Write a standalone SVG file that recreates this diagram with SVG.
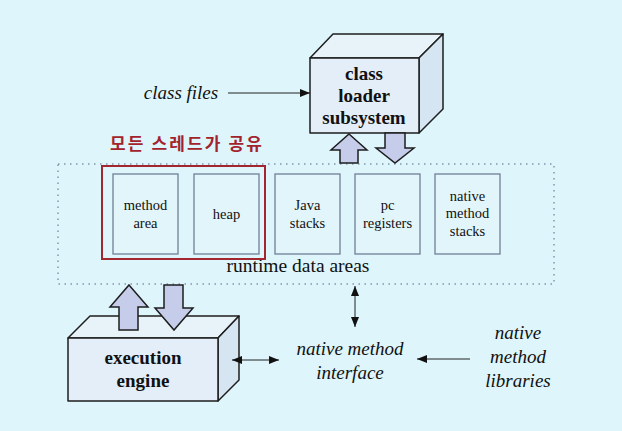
<svg xmlns="http://www.w3.org/2000/svg" width="622" height="431" viewBox="0 0 622 431">
<defs>
<marker id="ah" viewBox="0 0 10 8" refX="10" refY="4" markerWidth="10" markerHeight="8" markerUnits="userSpaceOnUse" orient="auto-start-reverse">
<path d="M0,0 L10,4 L0,8 Z" fill="#111"/>
</marker>
<style>
.bg{fill:#def5fb}
.face{fill:#e3eef8;stroke:#1e1e1e;stroke-width:1.5;stroke-linejoin:round}
.top{fill:#e8f2f9;stroke:#1e1e1e;stroke-width:1.5;stroke-linejoin:round}
.side{fill:#d6e5f2;stroke:#1e1e1e;stroke-width:1.5;stroke-linejoin:round}
.fat{fill:#c6cdea;stroke:#1e1e1e;stroke-width:1.5;stroke-linejoin:miter}
.area{fill:#e2f5fa;stroke:#6f7f95;stroke-width:1.3}
.dots{fill:none;stroke:#8595ad;stroke-width:1.5;stroke-dasharray:1.5,4.5}
.line{fill:none;stroke:#222;stroke-width:1}
.t{fill:#111;text-anchor:middle}
.bold{font-weight:bold;font-size:19px}
.small{font-size:14.5px}
.it{font-style:italic;font-size:19px}
</style>
</defs>
<rect class="bg" x="0" y="0" width="622" height="431"/>

<g font-family="Liberation Serif, DejaVu Serif, serif">
<g id="runtime-data-areas">
<rect class="dots" x="58" y="164" width="496" height="120"/>
<text class="t" x="298" y="272" font-size="19.5">runtime data areas</text>
</g>

<g id="shared-group">
<rect x="102" y="166" width="163" height="93" fill="none" stroke="#a3262f" stroke-width="2"/>
<text x="110" y="150" font-family="Noto Sans CJK KR, Noto Sans, sans-serif" font-size="17" font-weight="bold" fill="#a3232d" textLength="152" lengthAdjust="spacing">모든 스레드가 공유</text>
</g>

<g id="method-area">
<rect class="area" x="113" y="174" width="65" height="80"/>
<text class="t small" x="145.5" y="210">method</text>
<text class="t small" x="145.5" y="228">area</text>
</g>
<g id="heap">
<rect class="area" x="194" y="174" width="65" height="80"/>
<text class="t small" x="226.5" y="219">heap</text>
</g>
<g id="java-stacks">
<rect class="area" x="275" y="174" width="65" height="80"/>
<text class="t small" x="307.5" y="210">Java</text>
<text class="t small" x="307.5" y="228">stacks</text>
</g>
<g id="pc-registers">
<rect class="area" x="355" y="174" width="65" height="80"/>
<text class="t small" x="387.5" y="210">pc</text>
<text class="t small" x="387.5" y="228">registers</text>
</g>
<g id="native-method-stacks">
<rect class="area" x="435" y="174" width="65" height="80"/>
<text class="t small" x="467.5" y="201">native</text>
<text class="t small" x="467.5" y="218">method</text>
<text class="t small" x="467.5" y="236">stacks</text>
</g>

<g id="class-loader-subsystem">
<path class="top" d="M310,58 L333,34 L443,34 L419,58 Z"/>
<path class="side" d="M419,58 L443,34 L443,109 L419,133 Z"/>
<rect class="face" x="310" y="58" width="109" height="75"/>
<text class="t bold" x="364" y="80">class</text>
<text class="t bold" x="364" y="102">loader</text>
<text class="t bold" x="364" y="124">subsystem</text>
</g>

<g id="execution-engine">
<path class="top" d="M68,338 L90,316 L239,316 L218,338 Z"/>
<path class="side" d="M218,338 L239,316 L239,380 L218,401 Z"/>
<rect class="face" x="68" y="338" width="150" height="63"/>
<text class="t bold" x="143" y="364">execution</text>
<text class="t bold" x="143" y="387">engine</text>
</g>

<g id="class-files">
<text class="t it" x="181" y="99">class files</text>
</g>

<g id="native-method-interface">
<text class="t it" x="350" y="355">native method</text>
<text class="t it" x="350" y="379">interface</text>
</g>

<g id="native-method-libraries">
<text class="t it" x="518" y="339">native</text>
<text class="t it" x="518" y="363">method</text>
<text class="t it" x="518" y="387">libraries</text>
</g>
</g>

<g id="connectors">
<path class="fat" d="M349,134 L367,150 L358,150 L358,163 L340,163 L340,150 L331,150 Z"/>
<path class="fat" d="M385,133 L405,133 L405,148 L414,148 L395,163 L376,148 L385,148 Z"/>
<path class="fat" d="M129,285 L148,307 L138,307 L138,330 L119,330 L119,307 L110,307 Z"/>
<path class="fat" d="M164,285 L183,285 L183,308 L193,308 L174,330 L155,308 L164,308 Z"/>
<line class="line" x1="228" y1="93" x2="310" y2="93" marker-end="url(#ah)"/>
<line class="line" x1="232" y1="360" x2="279" y2="360" marker-start="url(#ah)" marker-end="url(#ah)"/>
<line class="line" x1="355" y1="286" x2="355" y2="327" marker-start="url(#ah)" marker-end="url(#ah)"/>
<line class="line" x1="470" y1="359" x2="417" y2="359" marker-end="url(#ah)"/>
</g>
</svg>
